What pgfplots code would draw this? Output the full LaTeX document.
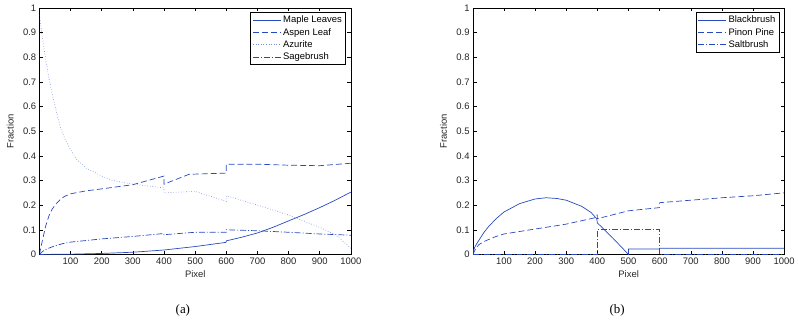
\documentclass[border=0pt]{standalone}
\usepackage{fontspec}
\setmainfont{Liberation Sans}
\newfontfamily\capfont{Liberation Serif}
\usepackage{pgfplots}
\pgfplotsset{compat=1.18}
\definecolor{mblue}{RGB}{40,72,190}
\definecolor{lblue}{RGB}{120,140,215}
\pgfplotsset{
  mystyle/.style={
    scale only axis, width=313pt, height=248pt,
    xmin=1, xmax=1000, ymin=0, ymax=1,
    xtick={100,200,300,400,500,600,700,800,900,1000},
    ytick={0,0.1,0.2,0.3,0.4,0.5,0.6,0.7,0.8,0.9,1},
    yticklabels={0,0.1,0.2,0.3,0.4,0.5,0.6,0.7,0.8,0.9,1},
    xticklabel style={/pgf/number format/set thousands separator={}},
    scaled ticks=false, no markers,
    cycle list={{draw=mblue}},
    tick align=inside, tick pos=both, major tick length=3.5pt,
    every tick/.style={black, line width=0.5pt},
    axis line style={line width=0.6pt},
    tick label style={font=\fontsize{9.5}{11}\selectfont, color=black!85},
    label style={font=\fontsize{9.5}{11}\selectfont, color=black!85},
    /pgf/number format/assume math mode=true,
    xlabel=Pixel, ylabel=Fraction,
    xlabel style={at={(axis description cs:0.5,-0.08)}, anchor=center},
    ylabel style={at={(axis description cs:-0.095,0.5)}, anchor=center},
    legend style={at={(0.985,0.985)}, anchor=north east, draw=black, line width=0.9pt,
      font=\fontsize{9.5}{11}\selectfont, cells={anchor=west}, row sep=0pt, inner sep=1.8pt},
    legend image code/.code={\draw[#1, line width=0.7pt] (0pt,0pt) -- (28pt,0pt);},
  },
  sl/.style={draw=mblue, line width=0.7pt, solid},
  dsh/.style={draw=mblue, line width=0.7pt, dash pattern=on 6pt off 3pt},
  dd/.style={draw=mblue, line width=0.7pt, dash pattern=on 6pt off 2pt on 1pt off 2pt},
  dt/.style={draw=lblue, line width=0.7pt, dash pattern=on 0.6pt off 2pt},
}
\begin{document}
\begin{tikzpicture}[x=1pt,y=1pt]
\path (0,0) rectangle (798,329);
\begin{axis}[mystyle, at={(40pt,73pt)}, anchor=south west]
\addplot+[sl] coordinates {(0,0) (100,0.001) (200,0.004) (300,0.009) (400,0.018) (500,0.032) (599,0.049) (600,0.055) (650,0.07) (700,0.087) (750,0.11) (800,0.136) (850,0.162) (900,0.19) (950,0.22) (1000,0.253)};
\addlegendentry{Maple Leaves}
\addplot+[dsh] coordinates {(0,0) (5,0.03) (10,0.06) (20,0.115) (30,0.155) (40,0.182) (50,0.2) (60,0.214) (70,0.226) (80,0.235) (100,0.246) (150,0.258) (200,0.266) (300,0.283) (400,0.318) (400,0.285) (480,0.325) (600,0.33) (600,0.366) (700,0.366) (800,0.362) (900,0.36) (1000,0.37)};
\addlegendentry{Aspen Leaf}
\addplot+[dt] coordinates {(0,0.97) (10,0.874) (20,0.79) (30,0.719) (40,0.657) (50,0.603) (60,0.55) (70,0.505) (85,0.46) (100,0.425) (120,0.385) (150,0.35) (200,0.318) (235,0.3) (300,0.285) (400,0.27) (400,0.25) (500,0.256) (600,0.215) (600,0.238) (700,0.2) (800,0.16) (900,0.11) (950,0.08) (1000,0.025)};
\addlegendentry{Azurite}
\addplot+[dd] coordinates {(0,0) (10,0.012) (20,0.02) (35,0.028) (50,0.035) (75,0.044) (100,0.05) (200,0.063) (300,0.073) (400,0.085) (400,0.08) (500,0.09) (600,0.09) (600,0.1) (700,0.096) (800,0.09) (900,0.083) (1000,0.078)};
\addlegendentry{Sagebrush}
\end{axis}
\begin{axis}[mystyle, at={(476pt,73pt)}, anchor=south west]
\addplot+[sl] coordinates {(0,0) (2,0.015) (5,0.025) (10,0.038) (20,0.058) (35,0.088) (50,0.112) (75,0.145) (100,0.172) (150,0.206) (200,0.225) (235,0.23) (270,0.227) (300,0.22) (350,0.195) (380,0.17) (398,0.145) (400,0.128) (450,0.066) (500,0) (500,0.022) (600,0.022) (600,0.025) (1000,0.025)};
\addlegendentry{Blackbrush}
\addplot+[dsh] coordinates {(0,0) (10,0.025) (20,0.04) (35,0.052) (50,0.06) (75,0.073) (100,0.083) (200,0.103) (300,0.123) (390,0.148) (398,0.16) (400,0.16) (400,0.145) (500,0.177) (600,0.19) (600,0.21) (700,0.22) (800,0.23) (900,0.238) (1000,0.25)};
\addlegendentry{Pinon Pine}
\addplot+[dd] coordinates {(0,0) (400,0) (400,0.1) (600,0.1) (600,0) (1000,0)};
\addlegendentry{Saltbrush}
\end{axis}
\node[font=\capfont\fontsize{13}{14}\selectfont] at (184,17) {(a)};
\node[font=\capfont\fontsize{13}{14}\selectfont] at (621,17) {(b)};
\end{tikzpicture}
\end{document}
